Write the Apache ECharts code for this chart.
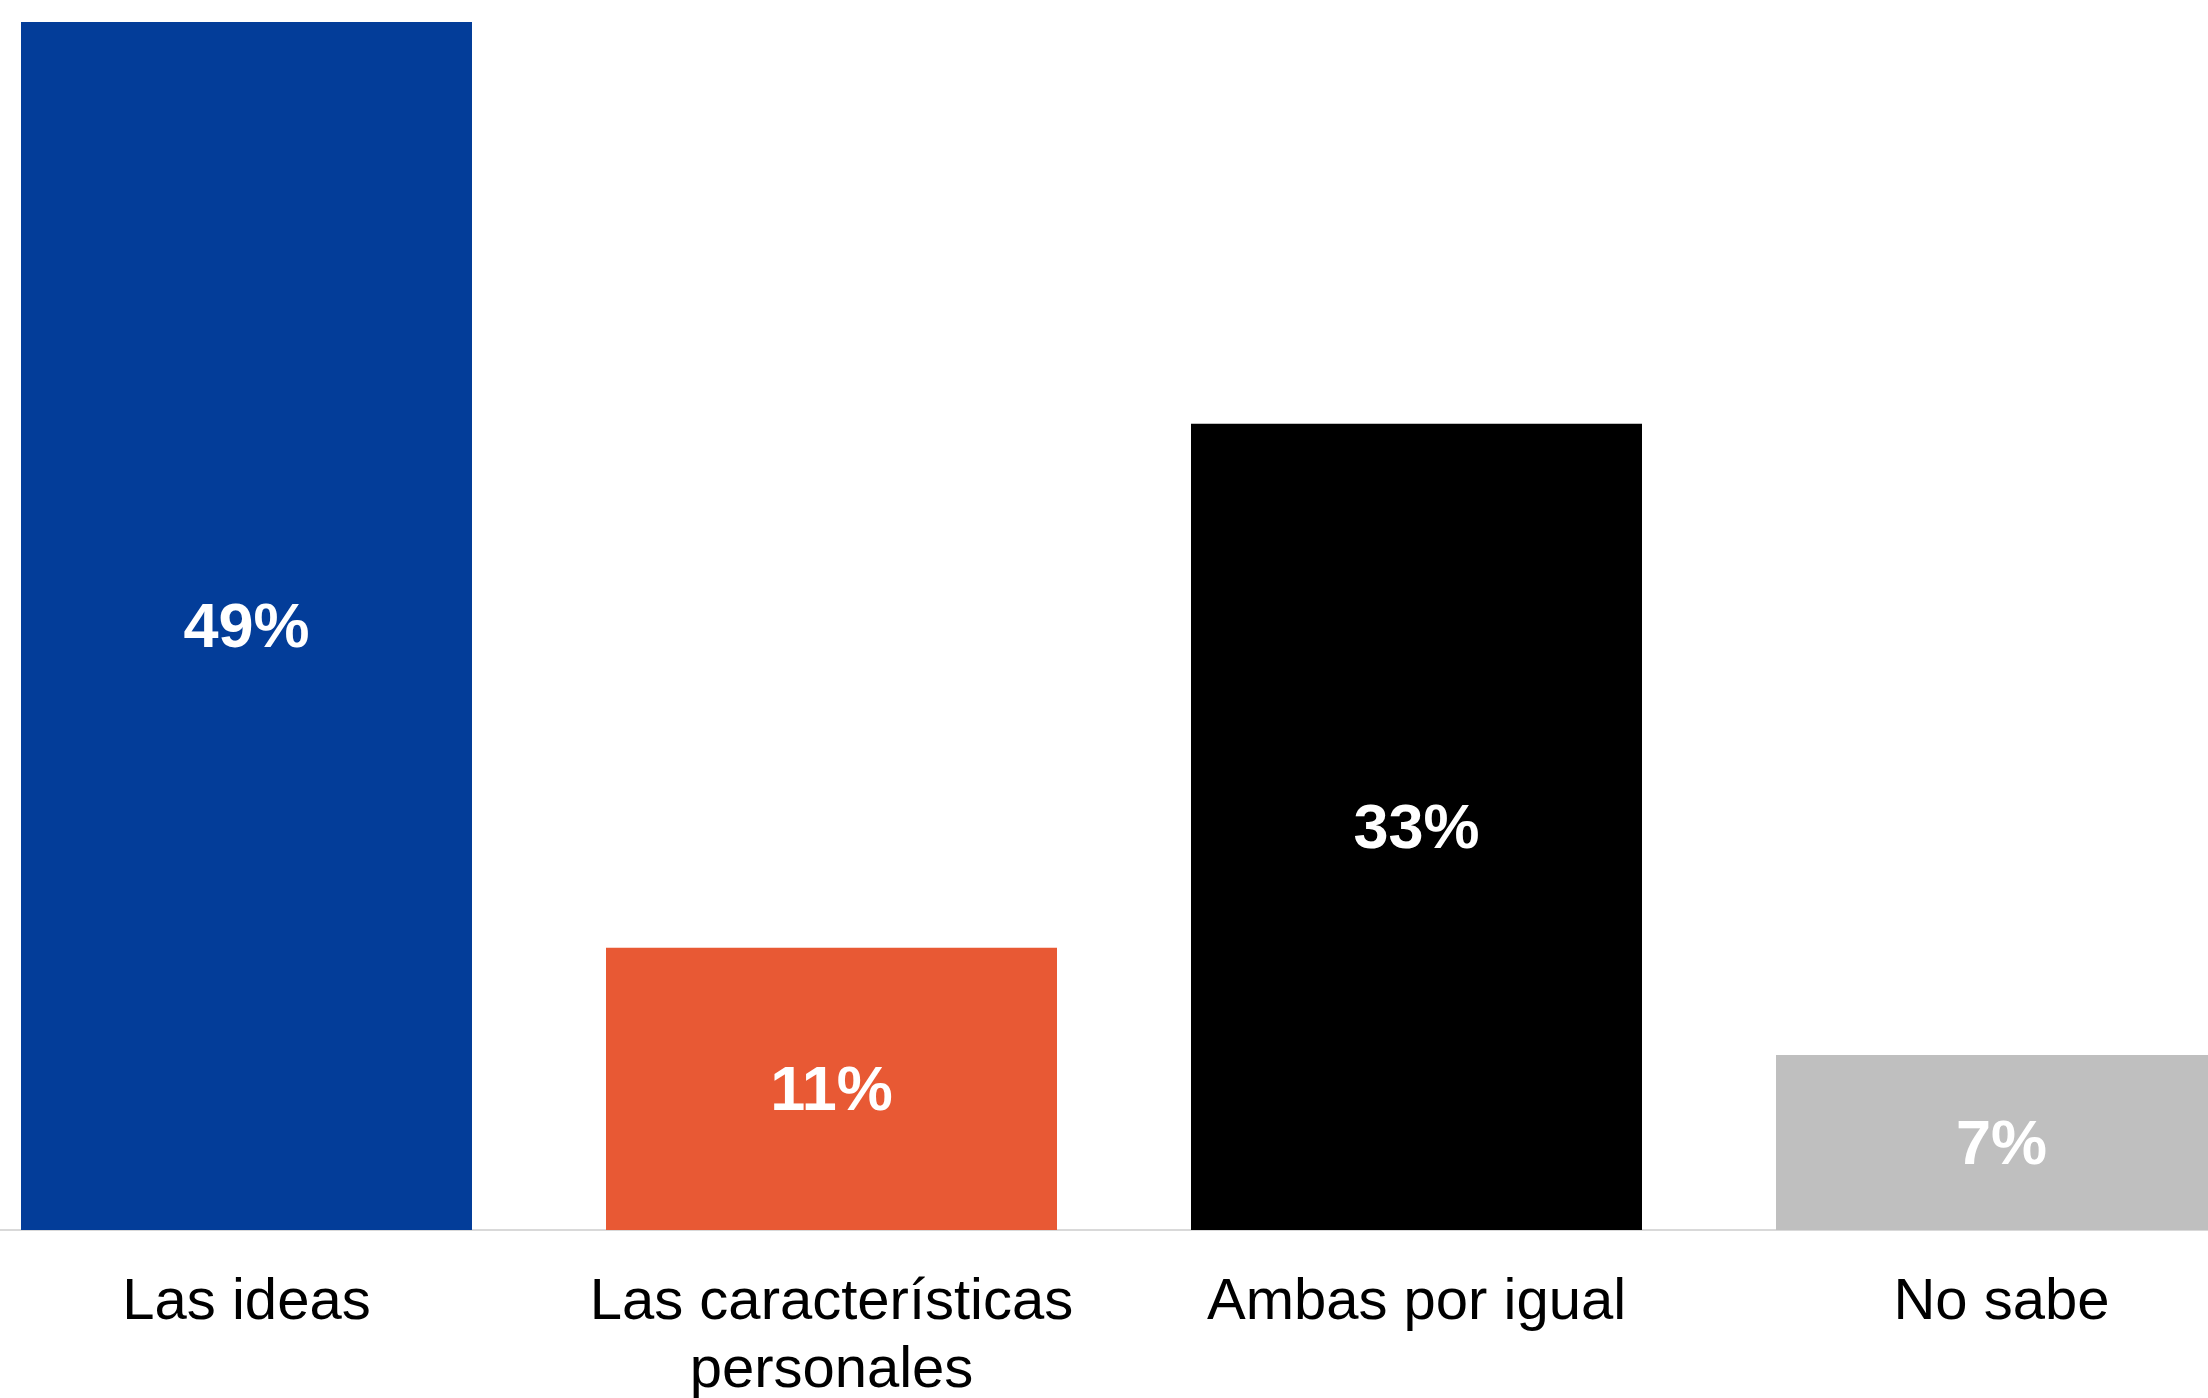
<!DOCTYPE html>
<html>
<head>
<meta charset="utf-8">
<script src="https://cdn.jsdelivr.net/npm/echarts@6/dist/echarts.min.js"></script>
<style>
  html, body { margin: 0; padding: 0; background: #fff; }
  #chart { width: 2208px; height: 1398px; }
</style>
</head>
<body>
<div id="chart"></div>
<script>
const categories = ["Las ideas", "Las características\npersonales", "Ambas por igual", "No sabe"];
const values = [49, 11.45, 32.7, 7.1];
const colors = ["#033d99", "#e85934", "#000000", "#bfbfbf"];

const chart = echarts.init(document.getElementById("chart"));

const option = {
  animation: false,
  grid: {
    left: -46,
    width: 2340,
    top: 22,
    bottom: 168,
    outerBoundsMode: "none",
    containLabel: false,
  },
  xAxis: {
    type: "category",
    data: categories,
    axisLine: {
      lineStyle: { color: "#d9d9d9", width: 2 },
    },
    axisTick: { show: false },
    axisLabel: {
      margin: 39,
      fontSize: 58,
      lineHeight: 68,
      color: "#000",
      fontFamily: "Liberation Sans, Arial, sans-serif",
      interval: 0,
    },
  },
  yAxis: {
    type: "value",
    min: 0,
    max: 49,
    show: false,
  },
  series: [
    {
      type: "bar",
      barWidth: 451,
      data: values.map((v, i) => ({
        value: v,
        itemStyle: { color: colors[i] },
      })),
      label: {
        show: true,
        position: "inside",
        offset: [0, 4],
        color: "#fff",
        fontWeight: "bold",
        fontSize: 63,
        fontFamily: "Liberation Sans, Arial, sans-serif",
        formatter(params) {
          return Math.round(params.value) + "%";
        },
      },
    },
  ],
};

chart.setOption(option);
</script>
</body>
</html>
